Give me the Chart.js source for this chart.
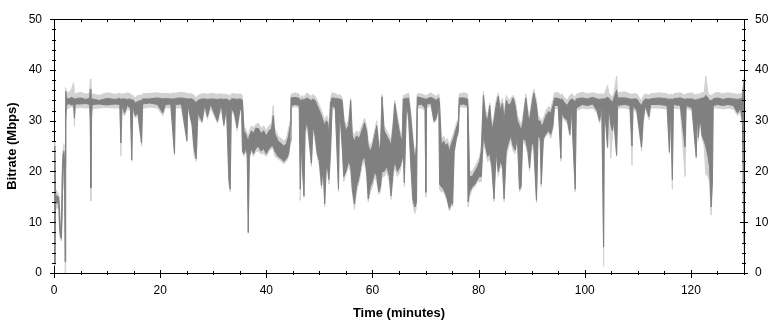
<!DOCTYPE html>
<html>
<head>
<meta charset="utf-8">
<script src="https://cdn.jsdelivr.net/npm/chart.js@4/dist/chart.umd.min.js"></script>
<style>
  html, body { margin: 0; padding: 0; background: #fff; }
  #wrap { width: 771px; height: 321px; position: relative; }
</style>
</head>
<body>
<div id="wrap"><canvas id="chart"></canvas></div>
<script>
// time axis (minutes) for every sample
const minutes = [
  0, 0.15, 0.3, 0.6, 0.9, 1.05, 1.2, 1.4, 1.55, 1.7, 1.85, 2.0,
  2.1, 2.2, 2.35, 2.8, 3.3, 3.7, 3.85, 4.0, 5.0, 6.0, 6.7, 6.85,
  6.95, 7.05, 7.2, 8.5, 10, 11.5, 12.4, 12.6, 12.8, 13.3, 13.8, 14.4,
  14.65, 14.85, 15.3, 15.8, 16.5, 16.7, 18, 19.5, 20.5, 21, 22, 22.7,
  22.85, 24, 25.05, 25.2, 26.0, 26.4, 26.8, 27.1, 27.9, 28.4, 28.9, 29.5,
  30.8, 31.5, 32.0, 32.5, 32.95, 33.2, 33.4, 34.0, 34.5, 35.0, 35.35, 35.5,
  35.8, 36.1, 36.4, 36.6, 36.8, 37.2, 37.6, 38.0, 38.5, 39.0, 39.5, 40.0,
  40.5, 41.0, 41.3, 41.6, 42.2, 42.8, 43.3, 43.8, 44.2, 44.5, 44.65, 45.5,
  46.2, 46.4, 46.6, 46.8, 47.1, 47.3, 47.7, 48.1, 48.5, 48.8, 49.2, 49.6,
  50.0, 50.4, 50.7, 51.0, 51.3, 51.6, 51.8, 52.1, 52.4, 53.0, 53.6, 53.8,
  54.3, 54.6, 55.0, 55.5, 55.9, 56.2, 56.6, 57.0, 57.5, 58.0, 58.5, 58.9,
  59.2, 59.6, 60.0, 60.4, 60.8, 61.2, 61.5, 61.8, 62.2, 62.7, 63.2, 63.5,
  63.9, 64.2, 64.7, 65.2, 65.6, 65.8, 66.0, 66.4, 66.8, 67.2, 67.6, 68.0,
  68.3, 68.45, 69.2, 69.9, 70.05, 70.2, 71.0, 71.6, 72.0, 72.5, 72.65, 73.0,
  73.4, 73.8, 74.1, 74.5, 74.9, 75.1, 75.4, 75.8, 76.2, 76.35, 77.2, 77.9,
  78.0, 78.3, 78.8, 79.3, 79.8, 80.2, 80.5, 80.9, 81.3, 81.7, 82.1, 82.5,
  82.9, 83.3, 83.7, 84.1, 84.5, 84.8, 85.2, 85.7, 86.1, 86.5, 86.9, 87.3,
  87.7, 88.0, 88.3, 88.9, 89.3, 89.6, 90.0, 90.4, 90.9, 91.2, 91.6, 91.8,
  92.2, 92.7, 93.2, 93.6, 94.0, 94.3, 95.0, 95.5, 95.7, 96.2, 96.7, 97.2,
  97.5, 98.0, 98.2, 98.4, 99.5, 100.5, 101.5, 102.3, 102.8, 103.2, 103.55, 103.7,
  104.3, 104.5, 104.9, 105.2, 105.5, 106.0, 106.2, 107.5, 108.5, 108.9, 109.1, 109.8,
  110.3, 110.7, 111.0, 111.4, 112.1, 112.4, 114.0, 115.5, 115.95, 116.15, 116.5, 116.7,
  118.0, 118.9, 119.1, 120.2, 121.0, 121.2, 121.4, 121.7, 122.1, 122.5, 122.8, 123.2,
  123.5, 123.8, 124.05, 124.2, 125.0, 126.0, 127.0, 128.0, 128.8, 129.3, 129.7, 130
];

// averaged bitrate, upper / lower edge (dark grey)
const avgHigh = [
  16, 25, 15.5, 15, 15, 12, 8.5, 8, 19, 23.5, 24, 22,
  21, 35.8, 34.5, 34.3, 34.6, 34.4, 34.3, 34.3, 34.5, 34.2, 34.4, 36.2,
  34.3, 34.3, 34.3, 34.0, 34.4, 34.2, 34.4, 34.2, 34.3, 34.3, 34.2, 34.3,
  34.0, 34.2, 33.5, 33.8, 34.0, 34.3, 34.3, 34.5, 34.3, 34.4, 34.3, 34.3,
  34.4, 34.5, 34.3, 34.3, 34.3, 34.0, 33.5, 34.0, 34.3, 34.3, 34.2, 34.3,
  34.2, 34.3, 34.2, 34.3, 34.0, 33.8, 34.3, 34.3, 34.2, 34.3, 34.2, 34.0,
  28, 27.5, 26.5, 26, 27, 28, 27.5, 28.5, 28.5, 27.5, 28, 27,
  28, 28.5, 31, 27.5, 26, 25.5, 25, 25.5, 27, 29, 34.5, 34.6,
  34.4, 34.0, 34.0, 34.3, 34.0, 34.3, 34.5, 34.2, 34.0, 34.3, 34, 33,
  32, 31, 30, 29, 30, 29.5, 27, 33.5, 34.5, 34.4, 34.3, 34.3,
  34.0, 30, 28, 29, 34, 27, 26, 27, 26.5, 28, 29.6, 28,
  25, 24, 25, 27, 29, 25, 24, 34.7, 28, 27, 26, 25,
  29, 33.4, 30, 27, 26, 34.3, 34.3, 34.4, 34.5, 31, 26, 22,
  25, 34.7, 34.5, 34.3, 34.0, 34.3, 34.6, 34.3, 34.0, 34.5, 33, 25,
  26, 25, 25.5, 24, 25.5, 26, 27, 28.5, 29.9, 34.5, 34.5, 34.3,
  33, 19, 19, 20, 21, 22, 24, 35.0, 31, 30, 33, 28,
  30, 33, 34.8, 32, 33.5, 30, 34, 33, 33.5, 34.5, 33, 30,
  29, 28, 29.5, 34.5, 31, 30, 33, 35.5, 33, 30, 29.9, 29,
  29.5, 31, 31.8, 31.5, 33, 34.5, 34.4, 34.2, 34.3, 33.5, 33.0, 34.0,
  34.3, 34.0, 33.5, 34.3, 34.5, 34.3, 34.6, 34.3, 34.2, 34.3, 34.3, 34.3,
  34.6, 34.5, 34, 33.5, 34.5, 36, 34.5, 34.5, 34.3, 34.2, 34.3, 34.3,
  33.5, 33.0, 33.8, 34.3, 34.2, 34.3, 34.5, 34.3, 34.2, 34.3, 34.2, 34.3,
  34.5, 34.2, 34.3, 34.3, 34, 34.3, 34.2, 34.3, 34.5, 34.5, 35, 34.5,
  34, 34, 34, 34.3, 34.5, 34.2, 34.4, 34.3, 34.2, 34.3, 34.5, 38
];

const avgLow = [
  13, 2, 13.5, 14, 13.5, 9, 7.3, 6.8, 13, 21, 21.5, 15.5,
  2.2, 30, 33, 33.4, 33.1, 33.2, 30.5, 33.3, 33.3, 33.4, 33.2, 30,
  16.8, 30.5, 33.2, 33.3, 33.1, 33.3, 33.2, 25.6, 33.0, 31.5, 33.0, 32.5,
  22.3, 32.8, 31.0, 31.5, 25.6, 33.3, 33.5, 33.2, 31.5, 33.2, 33.3, 23.5,
  33.2, 33.3, 26.1, 33.3, 29.2, 24.5, 22.5, 31.5, 29.9, 33.2, 30.8, 33.3,
  29.9, 33.3, 29.2, 32.8, 18.4, 16.5, 32.5, 31.5, 28.6, 32.0, 32.5, 24.0,
  23.5, 24.5, 23.5, 8, 23, 24.5, 23.5, 24.5, 25, 24, 24.5, 23.5,
  24.5, 25, 25, 24, 23, 22.5, 22, 22.5, 23.5, 26, 33, 33.2,
  33.0, 16.5, 26, 21, 15.2, 28, 30, 26, 21.6, 29, 27, 23.5,
  22, 17.2, 21, 13.6, 21, 20.3, 18.4, 24, 33.0, 32.5, 16.5, 32.8,
  25, 19, 20, 22, 21, 16.5, 13.6, 17, 19, 22, 23, 20,
  14.6, 17, 18, 20, 19, 16, 17, 20, 20, 21, 19, 15.2,
  20, 22, 20, 21, 22.5, 24, 17.8, 33, 31, 22, 14.6, 13,
  14, 33, 33.3, 32.5, 15.9, 33.2, 33.5, 29.9, 30.5, 33.0, 17.5, 17,
  16.5, 15.5, 14.5, 12.7, 14, 13.5, 24, 26.5, 28, 33.2, 33.3, 33,
  14, 16, 17, 17.5, 18.5, 19, 19, 27, 25, 23, 23.5, 21,
  14.6, 24, 20, 22, 21, 14.6, 24, 26, 27, 25, 24.2, 27,
  16.5, 17, 26.5, 26, 24, 20.7, 26, 25, 14.3, 27, 26.6, 17.5,
  26.5, 27.5, 28, 27.3, 29, 33.0, 33.0, 22.6, 31.5, 30.5, 30.2, 27.3,
  32.5, 21, 16.5, 32.5, 33.2, 33.0, 33.3, 32, 30, 33, 5.1, 33,
  24.8, 33, 29.3, 28.0, 30, 23.2, 33, 33.2, 33, 25.0, 33, 32,
  28, 24.8, 30, 33, 30.8, 33.2, 33.2, 33, 23.8, 33, 18.4, 33.2,
  33, 24.8, 33, 32.5, 22.9, 32, 26.7, 31, 27, 26, 25, 23,
  21, 13, 18, 33, 33.2, 33, 33.2, 33, 31.5, 32.5, 30, 5.8
];

// raw per-sample bitrate, upper / lower edge (light grey)
const rawHigh = [
  17, 26, 16.5, 16, 15.5, 13, 9.5, 9, 20, 24.5, 25.5, 23,
  22, 36.5, 35.8, 35.5, 36.2, 37.5, 35.3, 35.3, 35.6, 35.2, 35.5, 38.2,
  35.3, 35.3, 35.3, 35.0, 35.5, 35.2, 35.4, 35.2, 35.3, 35.3, 35.5, 35.3,
  35.0, 35.0, 34.5, 35.0, 35.0, 35.3, 35.4, 35.5, 35.3, 35.4, 35.3, 35.5,
  35.4, 35.6, 35.4, 35.3, 35.3, 35.0, 34.5, 35.0, 35.3, 35.3, 35.2, 35.4,
  35.2, 35.3, 35.2, 35.2, 35.0, 34.8, 35.3, 35.3, 35.2, 35.3, 35.2, 34.5,
  28.8, 28.5, 27.5, 26.5, 28, 29, 28.5, 29.2, 29.5, 28.5, 29, 28,
  29, 29.5, 33, 28.5, 27, 26.5, 26, 26.5, 28.5, 30, 35.2, 35.5,
  35.2, 34.5, 34.8, 35.0, 34.5, 35.0, 35.5, 35, 34.8, 35.2, 34.8, 34,
  33, 32, 31, 30, 31, 30.5, 28, 34.5, 35.5, 35.3, 35.0, 35.2,
  34.5, 31, 29, 30, 34.5, 28, 27, 28, 27.5, 29, 30.5, 29,
  26, 25, 26, 28, 30, 26, 25, 35.2, 29, 28, 27, 26,
  30, 34, 31, 28, 27, 35, 35, 35.2, 35.5, 32, 27, 23,
  26, 35.3, 35.3, 35.0, 34.5, 35.0, 35.5, 35.0, 34.8, 35.3, 34, 26,
  27, 26, 26.5, 25, 26.5, 27, 28, 29.5, 30.5, 35.3, 35.5, 35.3,
  34, 20, 20, 21, 22, 23, 25, 35.8, 32, 31, 33.5, 29,
  31, 34, 35.5, 33, 34.5, 31, 35, 34, 34.5, 35, 34, 31,
  30, 29, 30.5, 35.3, 32, 31, 34, 36.2, 34, 31, 30.5, 30,
  30.5, 32, 32.8, 32.5, 34, 35.5, 35.5, 35.0, 35.3, 34.5, 34, 35,
  35.3, 34.8, 34.5, 35.2, 35.6, 35.3, 35.5, 35.3, 35.2, 35.3, 35.2, 35.3,
  37, 35.5, 35, 34.5, 35.5, 38.8, 35.5, 35.7, 35.3, 35.2, 35.3, 35.3,
  34.5, 34, 34.8, 35.3, 35, 35.3, 35.5, 35.3, 35, 35.3, 35.0, 35.3,
  35.5, 35, 35.3, 35.5, 35, 35.3, 35.2, 35.3, 35.5, 35.5, 38.8, 35.5,
  35, 35, 34.8, 35.3, 35.6, 35.3, 35.5, 35.3, 35.2, 35.3, 35.5, 38.5
];

const rawLow = [
  12, 1.5, 12.5, 13, 12.5, 8, 6.5, 6.3, 12, 20, 20.5, 15,
  0, 28, 32.3, 32.5, 32.8, 32.4, 28.9, 32.5, 32.6, 32.5, 32.6, 24,
  14.2, 28, 32.4, 32.5, 32.6, 32.5, 32.5, 23, 31.5, 31, 32.3, 32.0,
  22.0, 32.3, 30.5, 31.0, 25.0, 32.4, 32.7, 32.5, 31.0, 32.6, 32.5, 23.2,
  32.5, 32.5, 25.8, 32.4, 29.0, 23.0, 22.0, 30.5, 29.5, 32.4, 30.3, 32.5,
  29.5, 32.4, 28.8, 32.2, 17.5, 16.0, 32.0, 31, 28, 31.5, 32.0, 23.5,
  23, 24, 22.5, 7.8, 22.5, 24, 23, 24, 24, 23.5, 23.5, 23,
  24, 24.5, 24.5, 23, 22.5, 22, 21.5, 22, 23, 25.5, 32.5, 32.8,
  32.5, 14.3, 25, 20.5, 14.8, 27, 29, 25, 21, 28, 26, 23,
  21, 16.5, 20, 13, 20.5, 19.5, 17.5, 23, 32.5, 32, 16, 32.3,
  24, 18, 19.5, 21, 20, 16, 12.5, 16, 18, 21, 22, 19,
  14, 16, 17, 19, 18, 15.5, 16, 19, 19, 20, 18, 14.5,
  19, 21, 19, 20, 22, 23, 17, 32.5, 30, 21, 13.5, 11.7,
  13, 32.5, 32.5, 32, 15, 32.5, 33, 29.5, 30, 32.5, 16.5, 16,
  16, 15, 14, 12.2, 13.5, 13, 23.5, 26, 27.5, 32.7, 32.7, 32.5,
  13, 15, 16.5, 17, 18, 18, 18, 26, 24, 22, 22.5, 20,
  14, 23, 19, 21, 20.5, 14, 23, 25, 26, 24, 23.5, 26.5,
  16, 16.5, 26, 25, 23, 20, 25, 24, 13.8, 26.5, 26, 17,
  26, 27, 27.5, 26.5, 28.5, 32.5, 32.3, 22, 31, 30, 29.5, 27,
  32, 20.5, 16, 32, 32.5, 32.3, 32.5, 31.5, 29.5, 32.5, 1.3, 32.5,
  24.5, 32.5, 22.6, 27, 29.5, 23, 32.5, 32.5, 32.3, 21.2, 32.3, 31.5,
  27.5, 24, 29.5, 32.5, 30.2, 32.5, 32.5, 32.3, 23.5, 32.5, 16.5, 32.5,
  32.3, 19, 32.5, 32, 22.5, 31.5, 26, 30.5, 26.5, 25, 19.5, 19,
  18, 11.4, 17, 32.5, 32.5, 32.3, 32.5, 32.3, 31, 32, 29, 4.2
];

const xTickLabels = [0, 20, 40, 60, 80, 100, 120];
const yTickLabels = [0, 10, 20, 30, 40, 50];
const xMinorStep = 5;
const yMinorStep = 2;

const DARK = '#808080';
const LIGHT = '#d2d2d2';

function points(values) {
  return minutes.map((t, i) => ({ x: t, y: values[i] }));
}

function band(values, color, fill) {
  return {
    data: points(values),
    borderColor: color,
    backgroundColor: color,
    borderWidth: 1,
    pointRadius: 0,
    tension: 0,
    fill: fill
  };
}

// small tick marks on all four sides, placed through the chart scales
const axisTicks = {
  id: 'axisTicks',
  afterDraw(chart) {
    const { ctx, chartArea: a } = chart;
    const x = chart.scales.x, y = chart.scales.y;
    ctx.save();
    ctx.strokeStyle = '#000';
    ctx.lineWidth = 1;
    ctx.beginPath();
    for (let v = x.min; v <= x.max; v += xMinorStep) {
      const px = Math.round(x.getPixelForValue(v)) + 0.5;
      const major = xTickLabels.includes(v);
      ctx.moveTo(px, a.bottom - (major ? 3 : 2));
      ctx.lineTo(px, a.bottom + (major ? 5 : 2));
      ctx.moveTo(px, a.top);
      ctx.lineTo(px, a.top + 3);
    }
    for (let v = y.min; v <= y.max; v += yMinorStep) {
      const py = Math.round(y.getPixelForValue(v)) + 0.5;
      const major = yTickLabels.includes(v);
      ctx.moveTo(a.left - (major ? 4 : 2), py);
      ctx.lineTo(a.left + 2, py);
      ctx.moveTo(a.right - (major ? 4 : 2), py);
      ctx.lineTo(a.right + (major ? 4 : 2), py);
    }
    ctx.stroke();
    ctx.restore();
  }
};

Chart.defaults.font.family = '"Liberation Sans", Arial, sans-serif';
Chart.defaults.font.size = 12;
Chart.defaults.color = '#000';

const noGrid = { drawOnChartArea: false, drawTicks: false };
const blackBorder = { display: true, color: '#000', width: 1 };

new Chart(document.getElementById('chart'), {
  type: 'line',
  data: {
    datasets: [
      band(avgHigh, DARK, '+1'),
      band(avgLow, DARK, false),
      band(rawHigh, LIGHT, '+1'),
      band(rawLow, LIGHT, false)
    ]
  },
  options: {
    responsive: true,
    maintainAspectRatio: false,
    animation: false,
    events: [],
    layout: { padding: 0 },
    plugins: { legend: { display: false }, tooltip: { enabled: false } },
    scales: {
      x: {
        type: 'linear', position: 'bottom', min: 0, max: 130,
        grid: noGrid, border: blackBorder,
        afterBuildTicks: s => { s.ticks = xTickLabels.map(v => ({ value: v })); },
        afterFit: s => { s.height = 48; },
        ticks: { padding: 10, maxRotation: 0, autoSkip: false },
        title: { display: true, text: 'Time (minutes)', font: { size: 13, weight: 'bold' }, padding: { top: 2, bottom: 0 } }
      },
      xTop: {
        type: 'linear', position: 'top', min: 0, max: 130,
        grid: noGrid, border: blackBorder,
        ticks: { display: false },
        afterFit: s => { s.height = 11; }
      },
      y: {
        type: 'linear', position: 'left', min: 0, max: 50,
        grid: noGrid, border: blackBorder,
        afterBuildTicks: s => { s.ticks = yTickLabels.map(v => ({ value: v })); },
        afterFit: s => { s.width = 54; },
        ticks: { padding: 12 },
        title: { display: true, text: 'Bitrate (Mbps)', font: { size: 13, weight: 'bold' }, padding: { top: 5, bottom: 0 } }
      },
      yRight: {
        type: 'linear', position: 'right', min: 0, max: 50,
        grid: noGrid, border: blackBorder,
        afterBuildTicks: s => { s.ticks = yTickLabels.map(v => ({ value: v })); },
        afterFit: s => { s.width = 27; },
        ticks: { padding: 11 }
      }
    }
  },
  plugins: [axisTicks]
});
</script>
</body>
</html>
